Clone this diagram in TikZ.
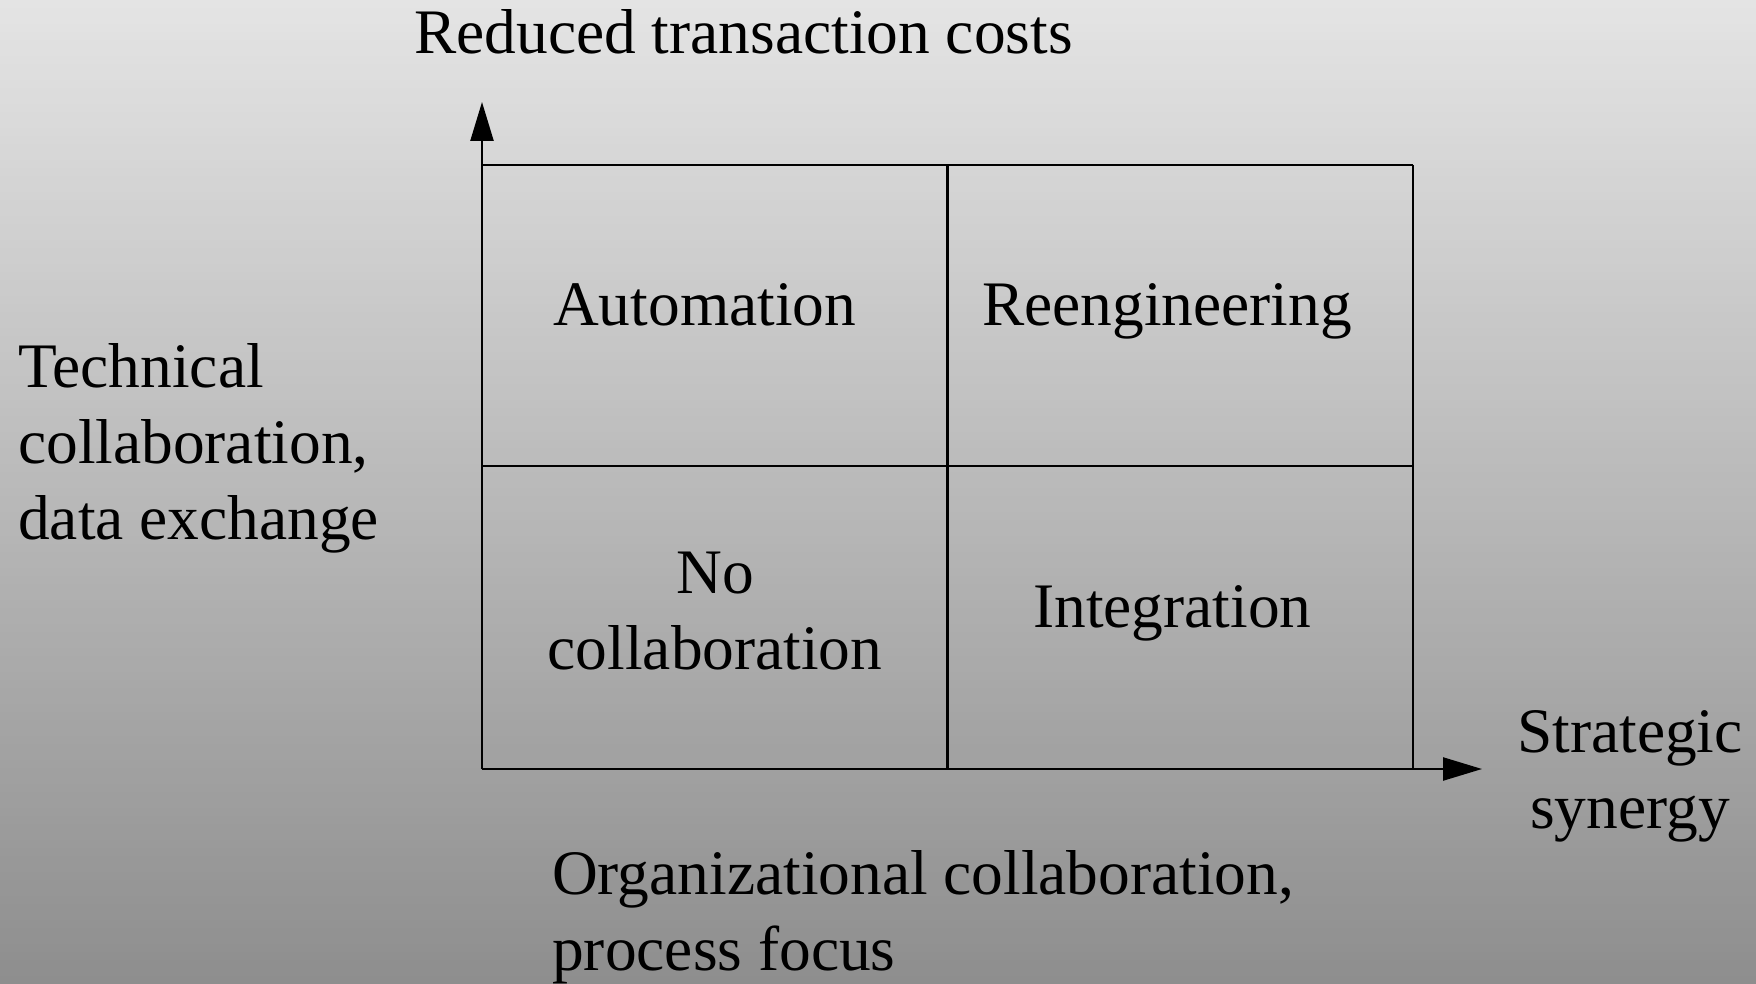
\documentclass[tikz,border=0pt]{standalone}
\usepackage{fontspec}
\setmainfont{Liberation Serif}
\usetikzlibrary{arrows.meta}
\definecolor{bgtop}{HTML}{E4E4E4}
\definecolor{bgbot}{HTML}{8E8E8E}
\begin{document}
\begin{tikzpicture}[x=1pt,y=-1pt,
  gridline/.style={line width=2.4pt, black},
  axisline/.style={line width=2.4pt, black, -{Triangle[length=39pt,width=23pt]}},
  lbl/.style={font=\fontsize{63.4}{76}\selectfont, inner sep=0pt, anchor=base west, align=left},
  clbl/.style={font=\fontsize{63.4}{76}\selectfont, inner sep=0pt, anchor=base, align=center}]
\useasboundingbox (0,0) rectangle (1756,984);
% vertical grey gradient background
\foreach \i in {0,...,122}{
  \pgfmathsetmacro\p{100*\i/122}
  \fill[bgbot!\p!bgtop] (0,\i*8) rectangle (1756,\i*8+8.6);
}
% grid corners
\coordinate (tl) at (482,165);
\coordinate (tm) at (947.5,165);
\coordinate (tr) at (1413,165);
\coordinate (ml) at (482,466);
\coordinate (mr) at (1413,466);
\coordinate (bl) at (482,769);
\coordinate (bm) at (947.5,769);
\coordinate (br) at (1413,769);
\coordinate (yend) at (482,102);
\coordinate (xend) at (1482,769);
% matrix lines
\draw[gridline] (tl) -- (tr);
\draw[gridline] (ml) -- (mr);
\draw[gridline] (tm) -- (bm);
\draw[gridline] (tr) -- (br);
% axes
\draw[axisline] (bl) -- (yend);
\draw[axisline] (bl) -- (xend);
% labels (multi-line nodes are anchored on their last baseline)
\node[lbl] (title) at (414,53.8) {Reduced transaction costs};
\node[lbl] (auto) at (553,325) {Automation};
\node[lbl] (reeng) at (982,325) {Reengineering};
\node[clbl] (nocol) at (715,669.8) {No\\collaboration};
\node[lbl] (integ) at (1033,627) {Integration};
\node[lbl] (tech) at (18,539.8) {Technical\\collaboration,\\data exchange};
\node[clbl] (strat) at (1630,828.8) {Strategic\\synergy};
\node[lbl] (org) at (552,970) {Organizational collaboration,\\process focus};
\end{tikzpicture}
\end{document}
